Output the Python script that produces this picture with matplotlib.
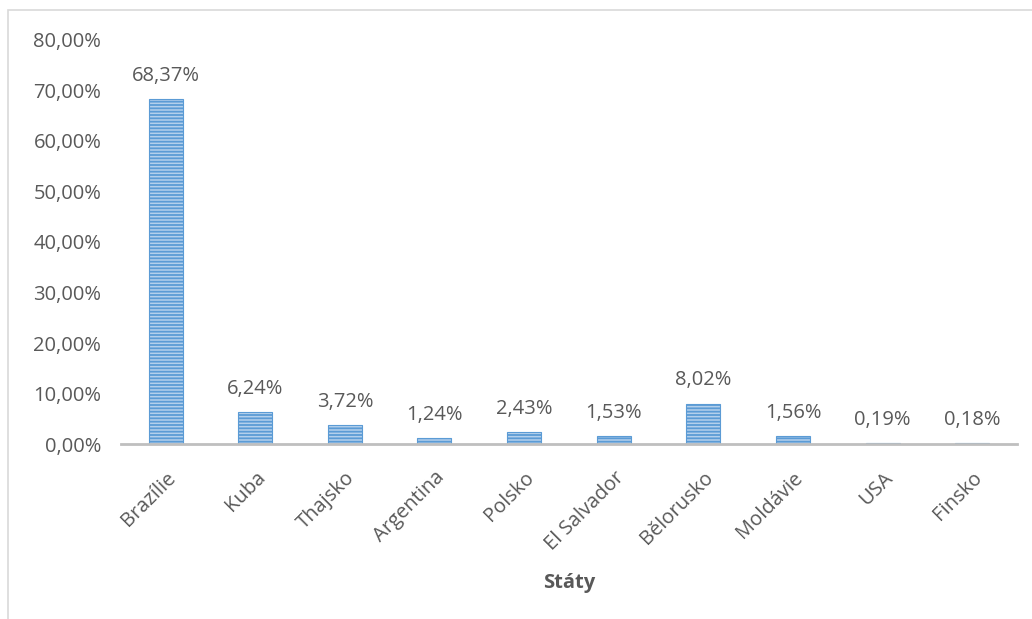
import matplotlib
matplotlib.use("Agg")
import matplotlib.pyplot as plt
from matplotlib.patches import Rectangle
from matplotlib.ticker import FuncFormatter

categories = ["Brazílie", "Kuba", "Thajsko", "Argentina", "Polsko", "El Salvador",
              "Bělorusko", "Moldávie", "USA", "Finsko"]
values = [68.37, 6.24, 3.72, 1.24, 2.43, 1.53, 8.02, 1.56, 0.19, 0.18]
value_labels = ["68,37%", "6,24%", "3,72%", "1,24%", "2,43%", "1,53%", "8,02%", "1,56%", "0,19%", "0,18%"]
x_label = "Státy"

plt.rcParams['font.family'] = ['Open Sans', 'DejaVu Sans']
plt.rcParams['hatch.linewidth'] = 1.3
text_color = "#595959"
fs = 14.5

fig = plt.figure(figsize=(10.32, 6.19), dpi=100)
ax = fig.add_axes([0.117, 0.2827, 0.8685, 0.6527])

fig.patches.append(Rectangle((8/1032, -0.1), 1.2, 1 - 10/619 + 0.1, transform=fig.transFigure,
                             fill=False, edgecolor="#D9D9D9", linewidth=1.2))

x = list(range(len(categories)))
bars = ax.bar(x, values, width=0.38, color="#B4D0EC", edgecolor="#5B9BD5", hatch="-----", linewidth=0.8)

for xi, v, lab in zip(x, values, value_labels):
    ax.text(xi, v + 2.6, lab, ha="center", va="bottom", fontsize=fs, color=text_color)

ax.set_xlim(-0.5, len(categories) - 0.5)
ax.set_ylim(0, 80)
ax.set_yticks(range(0, 81, 10))
ax.yaxis.set_major_formatter(FuncFormatter(lambda v, p: f"{v:.2f}".replace(".", ",") + "%"))
ax.set_xticks(x)
ax.set_xticklabels(categories, rotation=45, ha="right", rotation_mode="anchor")
ax.tick_params(axis="both", length=0, labelsize=fs, labelcolor=text_color)
ax.tick_params(axis="x", pad=17)
ax.tick_params(axis="y", pad=14)
for s in ["top", "right", "left"]:
    ax.spines[s].set_visible(False)
ax.spines["bottom"].set_color("#BFBFBF")
ax.spines["bottom"].set_linewidth(2)
ax.set_xlabel(x_label, fontsize=fs, fontweight="bold", color=text_color, labelpad=13)

fig.savefig("out.png", dpi=100)
